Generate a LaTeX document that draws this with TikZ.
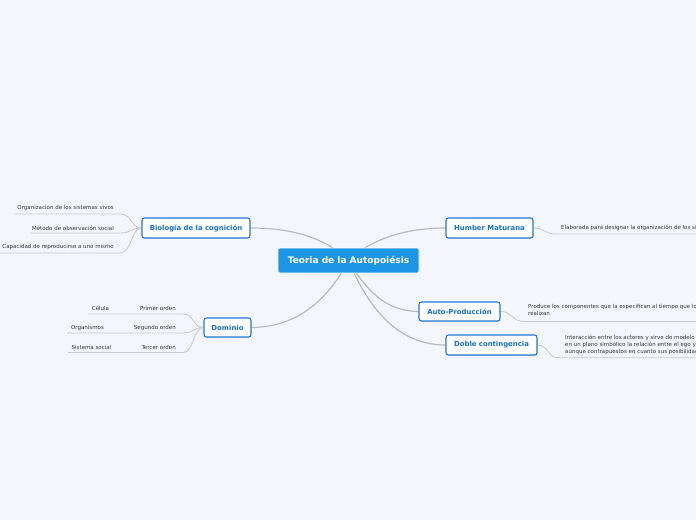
\documentclass[tikz,border=0pt]{standalone}
\usepackage{fontspec}
\setmainfont{DejaVu Sans}
\usetikzlibrary{shadows}
\definecolor{bgc}{RGB}{243,246,253}
\definecolor{rootblue}{RGB}{30,150,232}
\definecolor{boxblue}{RGB}{35,120,215}
\definecolor{txtblue}{RGB}{22,112,212}
\definecolor{connc}{RGB}{185,187,195}
\definecolor{leafc}{RGB}{200,202,210}
\definecolor{leaftxt}{RGB}{55,55,60}
\pgfdeclarelayer{back}
\pgfsetlayers{back,main}
\tikzset{
  rootbox/.style={draw=white, line width=0.6pt, fill=rootblue, rounded corners=2pt, text=white,
    font=\fontsize{9}{10}\selectfont\bfseries, inner sep=0pt},
  topicbox/.style={draw=boxblue, line width=1.1pt, fill=white, rounded corners=2.5pt, text=txtblue,
    font=\fontsize{6.9}{8}\selectfont\bfseries, inner sep=0pt,
    drop shadow={shadow xshift=0.4pt, shadow yshift=-0.9pt, opacity=0.25}},
  leaf/.style={inner sep=0pt, text=leaftxt, font=\fontsize{5.5}{6.8}\selectfont, align=left},
  mainconn/.style={draw=connc, line width=1.2pt},
  leafconn/.style={draw=leafc, line width=0.8pt}
}
\begin{document}
\begin{tikzpicture}[x=1pt,y=-1pt]
\useasboundingbox (0,0) rectangle (696,520);
\begin{pgfonlayer}{back}
\fill[bgc] (0,0) rectangle (696,520);
\end{pgfonlayer}
\clip (0,0) rectangle (696,520);

% main nodes
\node[rootbox, minimum width=141pt, minimum height=25pt] (root) at (348.5,260.5) {Teoria de la Autopoiésis};
\node[topicbox, minimum width=108pt, minimum height=20pt] (bio) at (196,228) {Biología de la cognición};
\node[topicbox, minimum width=87pt, minimum height=20pt] (hum) at (489.5,228) {Humber Maturana};
\node[topicbox, minimum width=81pt, minimum height=19pt] (auto) at (459.5,311.5) {Auto-Producción};
\node[topicbox, minimum width=91pt, minimum height=20pt] (dob) at (491.5,345) {Doble contingencia};
\node[topicbox, minimum width=47pt, minimum height=19pt] (dom) at (227.5,327.5) {Dominio};

% leaves of Biología
\node[leaf, anchor=east] (b1) at (114,208) {Organizacion de los sistemas vivos};
\node[leaf, anchor=east] (b2) at (114,228) {Método de observación social};
\node[leaf, anchor=east] (b3) at (114,247) {Capacidad de reproducirse a uno mismo};
\coordinate (b1e) at (15,214);
\coordinate (b2e) at (30,233);
\coordinate (b3e) at (0,253);

% leaves of Dominio
\node[leaf, anchor=east] (d1) at (176,308) {Primer orden};
\node[leaf, anchor=east] (d2) at (176,328) {Segundo orden};
\node[leaf, anchor=east] (d3) at (176,347) {Tercer orden};
\node[leaf] (e1) at (100.5,308) {Célula};
\node[leaf] (e2) at (87.5,327.5) {Organismos};
\node[leaf] (e3) at (91.5,347) {Sistema social};
\coordinate (e1e) at (88,314);
\coordinate (e2e) at (67,333);
\coordinate (e3e) at (68,352.5);

% right leaves
\node[leaf, anchor=west] (h1) at (561,228.3) {Elaborada para designar la organización de los sistemas vivos};
\node[leaf, anchor=north west] (a1) at (528,304.2) {Produce los componentes que la especifican al tiempo que los\\realizan};
\node[leaf, anchor=north west] (c1) at (565,334.9) {Interacción entre los actores y sirve de modelo para representar\\en un plano simbólico la relación entre el ego y el alter\\aunque contrapuestos en cuanto sus posibilidades};
\coordinate (h1e) at (700,234);
\coordinate (a1e) at (700,321.5);
\coordinate (c1e) at (700,357.7);

\begin{pgfonlayer}{back}
% main connectors
\draw[mainconn] (bio.east) .. controls (300,228) and (330,242) .. (root.center);
\draw[mainconn] (hum.west) .. controls (400,228) and (368,242) .. (root.center);
\draw[mainconn] (dom.east) .. controls (305,327) and (333,290) .. (root.center);
\draw[mainconn] (auto.west) .. controls (385,311) and (366,290) .. (root.center);
\draw[mainconn] (dob.west) .. controls (392,345) and (364,298) .. (root.center);
% Biología leaves
\draw[leafconn] (bio.west) .. controls (131,228) and (132,214) .. (120,214) -- (b1e);
\draw[leafconn] (bio.west) .. controls (131,228) and (132,233) .. (120,233) -- (b2e);
\draw[leafconn] (bio.west) .. controls (131,228) and (132,253) .. (120,253) -- (b3e);
% Dominio leaves
\draw[leafconn] (dom.west) .. controls (193,327.5) and (194,314) .. (183,314) -- (113,314) -- (e1e);
\draw[leafconn] (dom.west) .. controls (193,327.5) and (194,333) .. (183,333) -- (107,333) -- (e2e);
\draw[leafconn] (dom.west) .. controls (193,327.5) and (194,352.5) .. (183,352.5) -- (115,352.5) -- (e3e);
% right leaves
\draw[leafconn] (hum.east) .. controls (545,228) and (545,234) .. (555,234) -- (h1e);
\draw[leafconn] (auto.east) .. controls (512,311.5) and (512,321.5) .. (524,321.5) -- (a1e);
\draw[leafconn] (dob.east) .. controls (548,345) and (548,357.7) .. (558,357.7) -- (c1e);
\end{pgfonlayer}
\end{tikzpicture}
\end{document}
